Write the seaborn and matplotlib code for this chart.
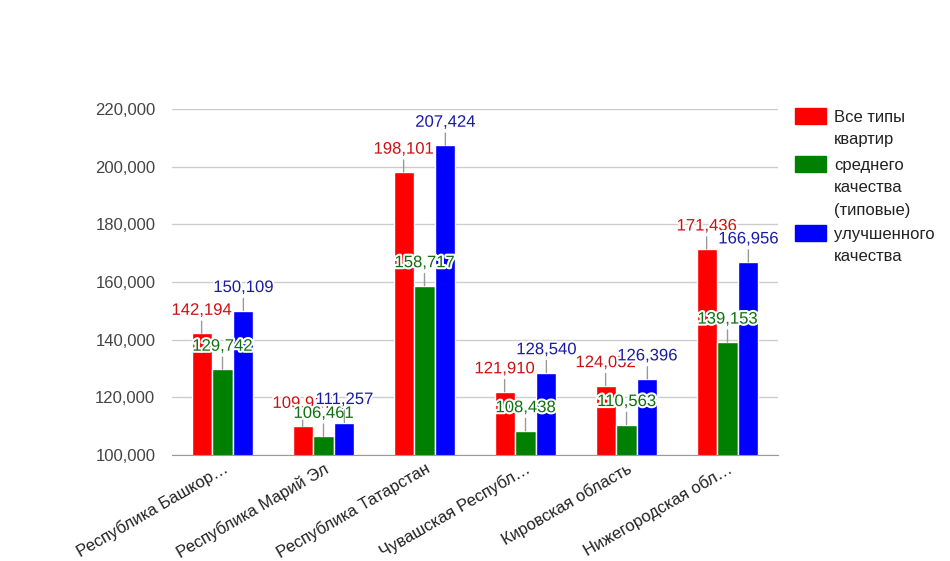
import pandas as pd
import seaborn as sns
import matplotlib.pyplot as plt
import matplotlib.patheffects as pe
from matplotlib.patches import Rectangle
from matplotlib.ticker import FuncFormatter

# Data
regions = ["Республика Башкор…", "Республика Марий Эл", "Республика Татарстан",
           "Чувашская Республ…", "Кировская область", "Нижегородская обл…"]
series = ["Все типы\nквартир", "среднего\nкачества\n(типовые)", "улучшенного\nкачества"]
all_types = [142194, 109917, 198101, 121910, 124052, 171436]
typical = [129742, 106461, 158717, 108438, 110563, 139153]
improved = [150109, 111257, 207424, 128540, 126396, 166956]

bar_colors = ["#ff0000", "#008000", "#0000ff"]
label_colors = ["#cc1111", "#107010", "#1a1aa8"]

df = pd.DataFrame({
    "region": regions * 3,
    "type": [series[0]] * 6 + [series[1]] * 6 + [series[2]] * 6,
    "value": all_types + typical + improved,
})

sns.set_style("white")
plt.rcParams["font.family"] = ["Liberation Sans", "DejaVu Sans"]

fig = plt.figure(figsize=(9.5, 5.61), dpi=100)
ax = fig.add_axes([172 / 950, 1 - 455 / 561, 606 / 950, 346 / 561])

sns.barplot(data=df, x="region", y="value", hue="type", palette=bar_colors,
            width=0.62, gap=0.04, ax=ax, legend=False, saturation=1)

ax.set_ylim(100000, 220000)
ax.set_xlim(-0.5, 5.5)
ax.set_yticks(range(100000, 220001, 20000))
ax.yaxis.set_major_formatter(FuncFormatter(lambda v, p: f"{int(v):,}"))
ax.grid(axis="y", color="#cccccc", lw=1)
ax.set_axisbelow(True)
for s in ["top", "right", "left"]:
    ax.spines[s].set_visible(False)
ax.spines["bottom"].set_color("#999999")
ax.tick_params(axis="both", length=0, labelsize=12)
ax.tick_params(axis="y", pad=12, labelcolor="#444444")
ax.tick_params(axis="x", pad=4, labelcolor="#222222")
ax.set_xlabel("")
ax.set_ylabel("")
plt.setp(ax.get_xticklabels(), rotation=30, ha="right", rotation_mode="anchor")

# value labels with leader lines
all_vals = [all_types, typical, improved]
for cont, vals, col in zip(ax.containers, all_vals, label_colors):
    for bar, v in zip(cont, vals):
        x = bar.get_x() + bar.get_width() / 2
        ax.annotate(f"{v:,}", xy=(x, v), xytext=(0, 23), textcoords="offset pixels",
                    ha="center", va="center", color=col, fontsize=12,
                    arrowprops=dict(arrowstyle="-", color="#999999", lw=1,
                                    shrinkA=0, shrinkB=0),
                    path_effects=[pe.withStroke(linewidth=3, foreground="white")],
                    annotation_clip=False)

# legend: swatch aligned with the first line of each entry
legend_tops = [108, 156, 225]
for name, col, top in zip(series, bar_colors, legend_tops):
    fig.patches.append(Rectangle((795 / 950, 1 - (top + 16) / 561), 31 / 950, 16 / 561,
                                 transform=fig.transFigure, color=col))
    fig.text(834 / 950, 1 - (top + 2) / 561, name, ha="left", va="top",
             fontsize=12, color="#222222", linespacing=1.62)

fig.savefig("out.png", dpi=100)
